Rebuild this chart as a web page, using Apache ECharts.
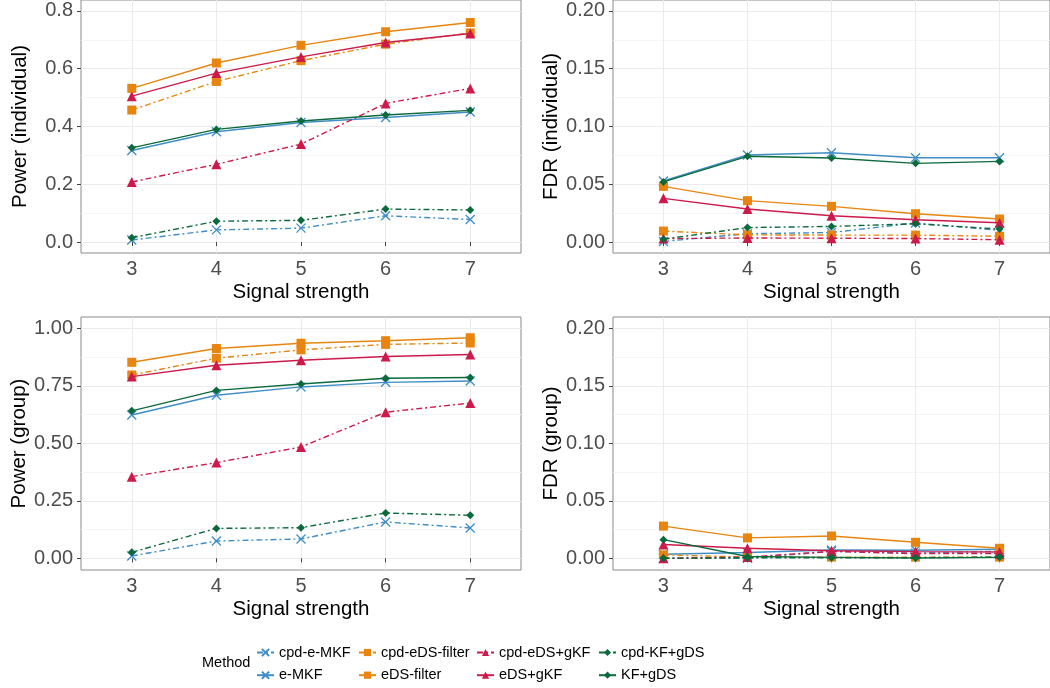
<!DOCTYPE html>
<html><head><meta charset="utf-8">
<script src="https://cdn.jsdelivr.net/npm/echarts@6/dist/echarts.min.js"></script>
<style>html,body{margin:0;padding:0;background:#fff}#c{width:1050px;height:688px}</style>
</head><body><div id="c"></div><script>
// ---------------- data ----------------
const signal = [3, 4, 5, 6, 7];
const methods = ['cpd-e-MKF', 'e-MKF', 'cpd-eDS-filter', 'eDS-filter', 'cpd-eDS+gKF', 'eDS+gKF', 'cpd-KF+gDS', 'KF+gDS'];

// rows follow the order of `methods`
const powerIndividual = [
  [0.007, 0.042, 0.048, 0.091, 0.078],
  [0.317, 0.382, 0.414, 0.431, 0.450],
  [0.457, 0.556, 0.628, 0.685, 0.724],
  [0.532, 0.620, 0.681, 0.728, 0.760],
  [0.208, 0.269, 0.339, 0.480, 0.532],
  [0.505, 0.585, 0.641, 0.691, 0.722],
  [0.015, 0.072, 0.075, 0.114, 0.111],
  [0.326, 0.390, 0.419, 0.440, 0.456]
];
const fdrIndividual = [
  [0.0005, 0.0072, 0.0082, 0.0165, 0.0100],
  [0.0528, 0.0753, 0.0773, 0.0730, 0.0730],
  [0.0095, 0.0062, 0.0060, 0.0060, 0.0050],
  [0.0482, 0.0358, 0.0309, 0.0245, 0.0199],
  [0.0030, 0.0035, 0.0033, 0.0030, 0.0020],
  [0.0378, 0.0286, 0.0228, 0.0193, 0.0167],
  [0.0025, 0.0125, 0.0135, 0.0158, 0.0112],
  [0.0520, 0.0742, 0.0727, 0.0681, 0.0698]
];
const powerGroup = [
  [0.010, 0.075, 0.084, 0.158, 0.132],
  [0.623, 0.709, 0.745, 0.765, 0.771],
  [0.797, 0.870, 0.906, 0.930, 0.936],
  [0.852, 0.912, 0.935, 0.946, 0.959],
  [0.355, 0.416, 0.484, 0.635, 0.675],
  [0.790, 0.839, 0.861, 0.877, 0.886],
  [0.026, 0.130, 0.133, 0.197, 0.187],
  [0.641, 0.730, 0.758, 0.783, 0.786]
];
const fdrGroup = [
  [0.0000, 0.0000, 0.0060, 0.0045, 0.0060],
  [0.0035, 0.0050, 0.0072, 0.0070, 0.0078],
  [0.0030, 0.0010, 0.0010, 0.0010, 0.0010],
  [0.0280, 0.0177, 0.0194, 0.0139, 0.0087],
  [0.0000, 0.0010, 0.0060, 0.0040, 0.0040],
  [0.0120, 0.0087, 0.0065, 0.0058, 0.0055],
  [0.0000, 0.0005, 0.0005, 0.0005, 0.0010],
  [0.0162, 0.0015, 0.0008, 0.0003, 0.0008]
];
const yTicksPowerInd = [0, 0.2, 0.4, 0.6, 0.8];
const yMinorPowerInd = [0.1, 0.3, 0.5, 0.7];
const yTicksFdr = [0, 0.05, 0.10, 0.15, 0.20];
const yMinorFdr = [0.025, 0.075, 0.125, 0.175];
const yTicksPowerGrp = [0, 0.25, 0.5, 0.75, 1.0];
const yMinorPowerGrp = [0.125, 0.375, 0.625, 0.875];
const panelTitles = ['Power (individual)', 'FDR (individual)', 'Power (group)', 'FDR (group)'];
const xTitle = 'Signal strength';
const legendTitle = 'Method';

// ---------------- styles ----------------
const FONT = '"Liberation Sans", Arial, Helvetica, sans-serif';
const blue = '#3f8ec5', orange = '#e8850f', red = '#cc1a4a', green = '#0b6a3c';
const xPath = 'path://M0,0 L10,10 M10,0 L0,10';
const methodStyle = [
  {color: blue, symbol: xPath, size: 9, dash: true, cross: true},
  {color: blue, symbol: xPath, size: 9, dash: false, cross: true},
  {color: orange, symbol: 'rect', size: 9, dash: true},
  {color: orange, symbol: 'rect', size: 9, dash: false},
  {color: red, symbol: 'triangle', size: 10, dash: true},
  {color: red, symbol: 'triangle', size: 10, dash: false},
  {color: green, symbol: 'diamond', size: 8, dash: true},
  {color: green, symbol: 'diamond', size: 8, dash: false}
];

const panels = [
  {data: powerIndividual, left: 81, top: 0, width: 440, height: 253, min: -0.038, max: 0.838, ticks: yTicksPowerInd, minor: yMinorPowerInd, dec: 1},
  {data: fdrIndividual, left: 613, top: 0, width: 447, height: 253, min: -0.0095, max: 0.2095, ticks: yTicksFdr, minor: yMinorFdr, dec: 2},
  {data: powerGroup, left: 81, top: 317, width: 440, height: 253, min: -0.0509, max: 1.049, ticks: yTicksPowerGrp, minor: yMinorPowerGrp, dec: 2},
  {data: fdrGroup, left: 613, top: 317, width: 447, height: 253, min: -0.0102, max: 0.2098, ticks: yTicksFdr, minor: yMinorFdr, dec: 2}
];

const grids = [], xAxes = [], yAxes = [], series = [];
panels.forEach((p, g) => {
  grids.push({left: p.left, top: p.top, width: p.width, height: p.height, show: true,
    borderColor: '#8a8a8a', borderWidth: 1, backgroundColor: '#fff', containLabel: false});
  xAxes.push({type: 'value', gridIndex: g, min: 2.4, max: 7.6,
    axisLine: {show: false},
    axisTick: {show: true, customValues: signal, length: 4, lineStyle: {color: '#444', width: 1}},
    axisLabel: {customValues: signal, color: '#4d4d4d', fontSize: 20, fontFamily: FONT, margin: 6},
    splitLine: {show: true, lineStyle: {color: '#ebebeb', width: 1}},
    name: xTitle, nameLocation: 'middle', nameGap: 29,
    nameTextStyle: {color: '#000', fontSize: 20.5, fontFamily: FONT}});
});
panels.forEach((p, g) => {
  yAxes.push({type: 'value', gridIndex: g, min: p.min, max: p.max,
    axisLine: {show: false},
    axisTick: {show: true, customValues: p.ticks, length: 4, lineStyle: {color: '#444', width: 1}},
    axisLabel: {customValues: p.ticks, color: '#4d4d4d', fontSize: 20, fontFamily: FONT, margin: 8,
      formatter: v => Number(v).toFixed(p.dec)},
    splitLine: {show: true, lineStyle: {color: '#ebebeb', width: 1}},
    name: panelTitles[g], nameLocation: 'middle', nameGap: 50,
    nameTextStyle: {color: '#000', fontSize: 20.5, fontFamily: FONT}});
});
panels.forEach((p, g) => {
  yAxes.push({type: 'value', gridIndex: g, min: p.min, max: p.max, position: 'left',
    axisLine: {show: false}, axisLabel: {show: false},
    axisTick: {show: false, customValues: p.minor},
    splitLine: {show: true, lineStyle: {color: '#f4f4f4', width: 1}}});
});
panels.forEach((p, g) => {
  methods.forEach((m, i) => {
    const s = methodStyle[i];
    series.push({
      type: 'line', name: m, xAxisIndex: g, yAxisIndex: g,
      data: signal.map((x, k) => [x, p.data[i][k]]),
      symbol: s.symbol, symbolSize: s.size, showSymbol: true,
      lineStyle: {color: s.color, width: 1.4, type: s.dash ? [6, 3, 2, 3] : 'solid'},
      itemStyle: s.cross ? {color: s.color, borderColor: s.color, borderWidth: 1.3} : {color: s.color, borderWidth: 0},
      emphasis: {disabled: true}, animation: false, z: 2 + i * 0.01
    });
  });
});

const legendCols = [
  {left: 256, names: ['cpd-e-MKF', 'e-MKF']},
  {left: 358, names: ['cpd-eDS-filter', 'eDS-filter']},
  {left: 476, names: ['cpd-eDS+gKF', 'eDS+gKF']},
  {left: 598, names: ['cpd-KF+gDS', 'KF+gDS']}
];
const legends = legendCols.map(c => ({
  orient: 'vertical', left: c.left, top: 645, itemWidth: 17, itemHeight: 9, itemGap: 7.7,
  data: c.names, selectedMode: false, padding: 0,
  textStyle: {fontSize: 14.5, color: '#000', fontFamily: FONT}
}));

const chart = echarts.init(document.getElementById('c'), null, {renderer: 'canvas'});
chart.setOption({
  backgroundColor: '#fff',
  animation: false,
  grid: grids, xAxis: xAxes, yAxis: yAxes, series: series,
  legend: legends,
  graphic: [{type: 'text', left: 202, top: 655,
    style: {text: legendTitle, fontSize: 14.5, fontFamily: FONT, fill: '#000'}}]
});
</script></body></html>
